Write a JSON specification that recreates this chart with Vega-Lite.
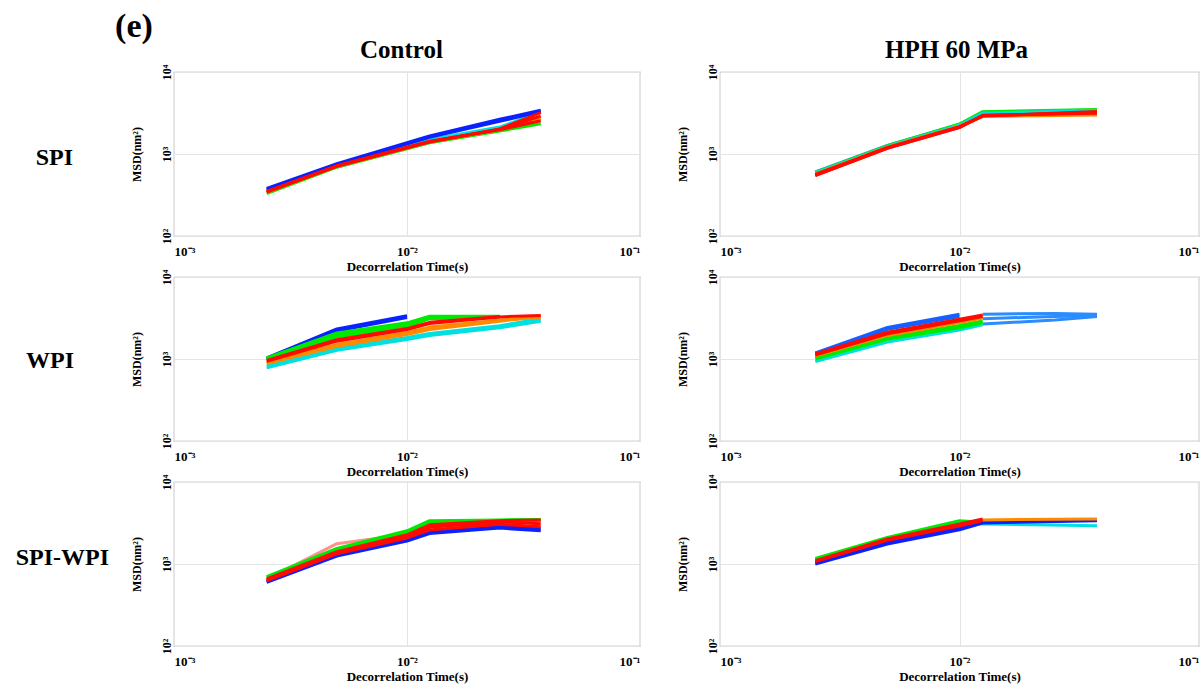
{
  "$schema": "https://vega.github.io/schema/vega-lite/v6.json",
  "padding": {"left": 15, "top": 9, "right": 0, "bottom": 0},
  "background": "white",
  "spacing": 34,
  "title": {"text": "(e)", "font": "Liberation Serif", "fontSize": 34, "fontWeight": "bold", "anchor": "start", "frame": "bounds", "dx": 100, "offset": -6, "color": "black"},
  "config": {
    "view": {"stroke": "#a8a8a8", "strokeWidth": 1.2},
    "font": "Liberation Serif",
    "title": {"font": "Liberation Serif", "fontWeight": "bold", "color": "black"},
    "axis": {"labelFont": "Liberation Serif", "labelFontWeight": "bold", "labelColor": "black", "titleFont": "Liberation Serif", "titleFontWeight": "bold", "titleColor": "black", "ticks": false, "domain": false, "gridColor": "#e4e4e4", "gridWidth": 1},
    "axisX": {"labelExpr": "datum.value < 0.005 ? '10⁻³' : datum.value < 0.05 ? '10⁻²' : '10⁻¹'", "labelFontSize": 13, "labelPadding": 9, "titleFontSize": 13, "titlePadding": 2},
    "axisY": {"labelExpr": "datum.value < 500 ? '10²' : datum.value < 5000 ? '10³' : '10⁴'", "labelFontSize": 12, "labelAngle": 270, "labelAlign": "center", "labelBaseline": "bottom", "labelPadding": 1, "labelFlush": false, "titleFontSize": 12, "titlePadding": 17},
    "line": {"strokeWidth": 3, "strokeJoin": "round"}
  },
  "data": {"values": [
    {"col":"Control","row":"SPI","s":"A3","c":"cyan","t":0.0025,"m":360},{"col":"Control","row":"SPI","s":"A3","c":"cyan","t":0.005,"m":730},{"col":"Control","row":"SPI","s":"A3","c":"cyan","t":0.0125,"m":1500},{"col":"Control","row":"SPI","s":"A3","c":"cyan","t":0.025,"m":2130},{"col":"Control","row":"SPI","s":"A3","c":"cyan","t":0.0375,"m":3250},
    {"col":"Control","row":"SPI","s":"A1","c":"blue","t":0.0025,"m":381},{"col":"Control","row":"SPI","s":"A1","c":"blue","t":0.005,"m":762},{"col":"Control","row":"SPI","s":"A1","c":"blue","t":0.0125,"m":1660},{"col":"Control","row":"SPI","s":"A1","c":"blue","t":0.025,"m":2650},{"col":"Control","row":"SPI","s":"A1","c":"blue","t":0.0375,"m":3410},
    {"col":"Control","row":"SPI","s":"A2","c":"blue","t":0.0025,"m":370},{"col":"Control","row":"SPI","s":"A2","c":"blue","t":0.005,"m":745},{"col":"Control","row":"SPI","s":"A2","c":"blue","t":0.0125,"m":1600},{"col":"Control","row":"SPI","s":"A2","c":"blue","t":0.025,"m":2500},{"col":"Control","row":"SPI","s":"A2","c":"blue","t":0.0375,"m":3300},
    {"col":"Control","row":"SPI","s":"A4","c":"green","t":0.0025,"m":328},{"col":"Control","row":"SPI","s":"A4","c":"green","t":0.005,"m":690},{"col":"Control","row":"SPI","s":"A4","c":"green","t":0.0125,"m":1370},{"col":"Control","row":"SPI","s":"A4","c":"green","t":0.025,"m":1910},{"col":"Control","row":"SPI","s":"A4","c":"green","t":0.0375,"m":2340},
    {"col":"Control","row":"SPI","s":"A5","c":"orange","t":0.0025,"m":340},{"col":"Control","row":"SPI","s":"A5","c":"orange","t":0.005,"m":705},{"col":"Control","row":"SPI","s":"A5","c":"orange","t":0.0125,"m":1400},{"col":"Control","row":"SPI","s":"A5","c":"orange","t":0.025,"m":1980},{"col":"Control","row":"SPI","s":"A5","c":"orange","t":0.0375,"m":2700},
    {"col":"Control","row":"SPI","s":"A6","c":"red","t":0.0025,"m":347},{"col":"Control","row":"SPI","s":"A6","c":"red","t":0.005,"m":714},{"col":"Control","row":"SPI","s":"A6","c":"red","t":0.0125,"m":1414},{"col":"Control","row":"SPI","s":"A6","c":"red","t":0.025,"m":2000},{"col":"Control","row":"SPI","s":"A6","c":"red","t":0.0375,"m":2900},
    {"col":"Control","row":"SPI","s":"A7","c":"red","t":0.0025,"m":342},{"col":"Control","row":"SPI","s":"A7","c":"red","t":0.005,"m":708},{"col":"Control","row":"SPI","s":"A7","c":"red","t":0.0125,"m":1400},{"col":"Control","row":"SPI","s":"A7","c":"red","t":0.025,"m":2020},{"col":"Control","row":"SPI","s":"A7","c":"red","t":0.0375,"m":3200},
    {"col":"Control","row":"SPI","s":"A8","c":"red","t":0.0025,"m":350},{"col":"Control","row":"SPI","s":"A8","c":"red","t":0.005,"m":718},{"col":"Control","row":"SPI","s":"A8","c":"red","t":0.0125,"m":1430},{"col":"Control","row":"SPI","s":"A8","c":"red","t":0.025,"m":1980},{"col":"Control","row":"SPI","s":"A8","c":"red","t":0.0375,"m":2550},

    {"col":"HPH 60 MPa","row":"SPI","s":"B1","c":"sky","t":0.0025,"m":605},{"col":"HPH 60 MPa","row":"SPI","s":"B1","c":"sky","t":0.005,"m":1270},{"col":"HPH 60 MPa","row":"SPI","s":"B1","c":"sky","t":0.01,"m":2300},{"col":"HPH 60 MPa","row":"SPI","s":"B1","c":"sky","t":0.0125,"m":3220},{"col":"HPH 60 MPa","row":"SPI","s":"B1","c":"sky","t":0.0375,"m":3440},
    {"col":"HPH 60 MPa","row":"SPI","s":"B2","c":"green","t":0.0025,"m":595},{"col":"HPH 60 MPa","row":"SPI","s":"B2","c":"green","t":0.005,"m":1260},{"col":"HPH 60 MPa","row":"SPI","s":"B2","c":"green","t":0.01,"m":2320},{"col":"HPH 60 MPa","row":"SPI","s":"B2","c":"green","t":0.0125,"m":3280},{"col":"HPH 60 MPa","row":"SPI","s":"B2","c":"green","t":0.0375,"m":3500},
    {"col":"HPH 60 MPa","row":"SPI","s":"B3","c":"cyan","t":0.0025,"m":590},{"col":"HPH 60 MPa","row":"SPI","s":"B3","c":"cyan","t":0.005,"m":1240},{"col":"HPH 60 MPa","row":"SPI","s":"B3","c":"cyan","t":0.01,"m":2260},{"col":"HPH 60 MPa","row":"SPI","s":"B3","c":"cyan","t":0.0125,"m":3150},{"col":"HPH 60 MPa","row":"SPI","s":"B3","c":"cyan","t":0.0375,"m":3400},
    {"col":"HPH 60 MPa","row":"SPI","s":"B4","c":"orange","t":0.0025,"m":570},{"col":"HPH 60 MPa","row":"SPI","s":"B4","c":"orange","t":0.005,"m":1210},{"col":"HPH 60 MPa","row":"SPI","s":"B4","c":"orange","t":0.01,"m":2180},{"col":"HPH 60 MPa","row":"SPI","s":"B4","c":"orange","t":0.0125,"m":2860},{"col":"HPH 60 MPa","row":"SPI","s":"B4","c":"orange","t":0.0375,"m":2990},
    {"col":"HPH 60 MPa","row":"SPI","s":"B5","c":"red","t":0.0025,"m":562},{"col":"HPH 60 MPa","row":"SPI","s":"B5","c":"red","t":0.005,"m":1200},{"col":"HPH 60 MPa","row":"SPI","s":"B5","c":"red","t":0.01,"m":2160},{"col":"HPH 60 MPa","row":"SPI","s":"B5","c":"red","t":0.0125,"m":2940},{"col":"HPH 60 MPa","row":"SPI","s":"B5","c":"red","t":0.0375,"m":3220},
    {"col":"HPH 60 MPa","row":"SPI","s":"B6","c":"red","t":0.0025,"m":550},{"col":"HPH 60 MPa","row":"SPI","s":"B6","c":"red","t":0.005,"m":1180},{"col":"HPH 60 MPa","row":"SPI","s":"B6","c":"red","t":0.01,"m":2120},{"col":"HPH 60 MPa","row":"SPI","s":"B6","c":"red","t":0.0125,"m":2900},{"col":"HPH 60 MPa","row":"SPI","s":"B6","c":"red","t":0.0375,"m":3300},
    {"col":"HPH 60 MPa","row":"SPI","s":"B7","c":"red","t":0.0025,"m":545},{"col":"HPH 60 MPa","row":"SPI","s":"B7","c":"red","t":0.005,"m":1170},{"col":"HPH 60 MPa","row":"SPI","s":"B7","c":"red","t":0.01,"m":2100},{"col":"HPH 60 MPa","row":"SPI","s":"B7","c":"red","t":0.0125,"m":2960},{"col":"HPH 60 MPa","row":"SPI","s":"B7","c":"red","t":0.0375,"m":3150},

    {"col":"Control","row":"WPI","s":"C1","c":"blue","t":0.0025,"m":1030},{"col":"Control","row":"WPI","s":"C1","c":"blue","t":0.005,"m":2330},{"col":"Control","row":"WPI","s":"C1","c":"blue","t":0.01,"m":3380},
    {"col":"Control","row":"WPI","s":"C2","c":"blue","t":0.0025,"m":1010},{"col":"Control","row":"WPI","s":"C2","c":"blue","t":0.005,"m":2200},{"col":"Control","row":"WPI","s":"C2","c":"blue","t":0.01,"m":3200},
    {"col":"Control","row":"WPI","s":"C10","c":"cyan","t":0.0025,"m":780},{"col":"Control","row":"WPI","s":"C10","c":"cyan","t":0.005,"m":1280},{"col":"Control","row":"WPI","s":"C10","c":"cyan","t":0.01,"m":1730},{"col":"Control","row":"WPI","s":"C10","c":"cyan","t":0.0125,"m":1930},{"col":"Control","row":"WPI","s":"C10","c":"cyan","t":0.025,"m":2400},{"col":"Control","row":"WPI","s":"C10","c":"cyan","t":0.0375,"m":2880},
    {"col":"Control","row":"WPI","s":"C11","c":"cyan","t":0.0025,"m":820},{"col":"Control","row":"WPI","s":"C11","c":"cyan","t":0.005,"m":1350},{"col":"Control","row":"WPI","s":"C11","c":"cyan","t":0.01,"m":1830},{"col":"Control","row":"WPI","s":"C11","c":"cyan","t":0.0125,"m":2050},{"col":"Control","row":"WPI","s":"C11","c":"cyan","t":0.025,"m":2550},{"col":"Control","row":"WPI","s":"C11","c":"cyan","t":0.0375,"m":3100},
    {"col":"Control","row":"WPI","s":"C3","c":"green","t":0.0025,"m":1030},{"col":"Control","row":"WPI","s":"C3","c":"green","t":0.005,"m":2080},{"col":"Control","row":"WPI","s":"C3","c":"green","t":0.01,"m":2760},{"col":"Control","row":"WPI","s":"C3","c":"green","t":0.0125,"m":3320},{"col":"Control","row":"WPI","s":"C3","c":"green","t":0.025,"m":3320},
    {"col":"Control","row":"WPI","s":"C4","c":"green","t":0.0025,"m":1000},{"col":"Control","row":"WPI","s":"C4","c":"green","t":0.005,"m":1950},{"col":"Control","row":"WPI","s":"C4","c":"green","t":0.01,"m":2600},{"col":"Control","row":"WPI","s":"C4","c":"green","t":0.0125,"m":3250},{"col":"Control","row":"WPI","s":"C4","c":"green","t":0.025,"m":3300},
    {"col":"Control","row":"WPI","s":"C5","c":"green","t":0.0025,"m":980},{"col":"Control","row":"WPI","s":"C5","c":"green","t":0.005,"m":1850},{"col":"Control","row":"WPI","s":"C5","c":"green","t":0.01,"m":2450},{"col":"Control","row":"WPI","s":"C5","c":"green","t":0.0125,"m":3100},{"col":"Control","row":"WPI","s":"C5","c":"green","t":0.025,"m":3250},
    {"col":"Control","row":"WPI","s":"C8","c":"orange","t":0.0025,"m":880},{"col":"Control","row":"WPI","s":"C8","c":"orange","t":0.005,"m":1430},{"col":"Control","row":"WPI","s":"C8","c":"orange","t":0.01,"m":1990},{"col":"Control","row":"WPI","s":"C8","c":"orange","t":0.0125,"m":2290},{"col":"Control","row":"WPI","s":"C8","c":"orange","t":0.025,"m":2880},{"col":"Control","row":"WPI","s":"C8","c":"orange","t":0.0375,"m":3320},
    {"col":"Control","row":"WPI","s":"C9","c":"orange","t":0.0025,"m":900},{"col":"Control","row":"WPI","s":"C9","c":"orange","t":0.005,"m":1500},{"col":"Control","row":"WPI","s":"C9","c":"orange","t":0.01,"m":2100},{"col":"Control","row":"WPI","s":"C9","c":"orange","t":0.0125,"m":2450},{"col":"Control","row":"WPI","s":"C9","c":"orange","t":0.025,"m":3000},{"col":"Control","row":"WPI","s":"C9","c":"orange","t":0.0375,"m":3200},
    {"col":"Control","row":"WPI","s":"C6","c":"red","t":0.0025,"m":940},{"col":"Control","row":"WPI","s":"C6","c":"red","t":0.005,"m":1650},{"col":"Control","row":"WPI","s":"C6","c":"red","t":0.01,"m":2290},{"col":"Control","row":"WPI","s":"C6","c":"red","t":0.0125,"m":2700},{"col":"Control","row":"WPI","s":"C6","c":"red","t":0.025,"m":3260},{"col":"Control","row":"WPI","s":"C6","c":"red","t":0.0375,"m":3400},
    {"col":"Control","row":"WPI","s":"C7","c":"red","t":0.0025,"m":960},{"col":"Control","row":"WPI","s":"C7","c":"red","t":0.005,"m":1720},{"col":"Control","row":"WPI","s":"C7","c":"red","t":0.01,"m":2350},{"col":"Control","row":"WPI","s":"C7","c":"red","t":0.0125,"m":2800},{"col":"Control","row":"WPI","s":"C7","c":"red","t":0.025,"m":3300},

    {"col":"HPH 60 MPa","row":"WPI","s":"D1","c":"blue2","t":0.0025,"m":1190},{"col":"HPH 60 MPa","row":"WPI","s":"D1","c":"blue2","t":0.005,"m":2430},{"col":"HPH 60 MPa","row":"WPI","s":"D1","c":"blue2","t":0.01,"m":3520},
    {"col":"HPH 60 MPa","row":"WPI","s":"D2","c":"blue2","t":0.0025,"m":1170},{"col":"HPH 60 MPa","row":"WPI","s":"D2","c":"blue2","t":0.005,"m":2300},{"col":"HPH 60 MPa","row":"WPI","s":"D2","c":"blue2","t":0.01,"m":3300},
    {"col":"HPH 60 MPa","row":"WPI","s":"D9","c":"sky","t":0.0125,"m":3520},{"col":"HPH 60 MPa","row":"WPI","s":"D9","c":"sky","t":0.025,"m":3600},{"col":"HPH 60 MPa","row":"WPI","s":"D9","c":"sky","t":0.0375,"m":3520},
    {"col":"HPH 60 MPa","row":"WPI","s":"D10","c":"sky","t":0.0125,"m":2670},{"col":"HPH 60 MPa","row":"WPI","s":"D10","c":"sky","t":0.025,"m":2990},{"col":"HPH 60 MPa","row":"WPI","s":"D10","c":"sky","t":0.0375,"m":3300},
    {"col":"HPH 60 MPa","row":"WPI","s":"D11","c":"sky","t":0.0125,"m":3100},{"col":"HPH 60 MPa","row":"WPI","s":"D11","c":"sky","t":0.025,"m":3300},{"col":"HPH 60 MPa","row":"WPI","s":"D11","c":"sky","t":0.0375,"m":3400},
    {"col":"HPH 60 MPa","row":"WPI","s":"D8","c":"cyan","t":0.0025,"m":930},{"col":"HPH 60 MPa","row":"WPI","s":"D8","c":"cyan","t":0.005,"m":1610},{"col":"HPH 60 MPa","row":"WPI","s":"D8","c":"cyan","t":0.01,"m":2260},{"col":"HPH 60 MPa","row":"WPI","s":"D8","c":"cyan","t":0.0125,"m":2620},
    {"col":"HPH 60 MPa","row":"WPI","s":"D6","c":"green","t":0.0025,"m":1000},{"col":"HPH 60 MPa","row":"WPI","s":"D6","c":"green","t":0.005,"m":1740},{"col":"HPH 60 MPa","row":"WPI","s":"D6","c":"green","t":0.01,"m":2400},{"col":"HPH 60 MPa","row":"WPI","s":"D6","c":"green","t":0.0125,"m":2760},
    {"col":"HPH 60 MPa","row":"WPI","s":"D7","c":"green","t":0.0025,"m":1040},{"col":"HPH 60 MPa","row":"WPI","s":"D7","c":"green","t":0.005,"m":1830},{"col":"HPH 60 MPa","row":"WPI","s":"D7","c":"green","t":0.01,"m":2560},{"col":"HPH 60 MPa","row":"WPI","s":"D7","c":"green","t":0.0125,"m":2900},
    {"col":"HPH 60 MPa","row":"WPI","s":"D5","c":"orange","t":0.0025,"m":1090},{"col":"HPH 60 MPa","row":"WPI","s":"D5","c":"orange","t":0.005,"m":1940},{"col":"HPH 60 MPa","row":"WPI","s":"D5","c":"orange","t":0.01,"m":2790},{"col":"HPH 60 MPa","row":"WPI","s":"D5","c":"orange","t":0.0125,"m":3150},
    {"col":"HPH 60 MPa","row":"WPI","s":"D3","c":"red","t":0.0025,"m":1150},{"col":"HPH 60 MPa","row":"WPI","s":"D3","c":"red","t":0.005,"m":2120},{"col":"HPH 60 MPa","row":"WPI","s":"D3","c":"red","t":0.01,"m":3060},{"col":"HPH 60 MPa","row":"WPI","s":"D3","c":"red","t":0.0125,"m":3450},
    {"col":"HPH 60 MPa","row":"WPI","s":"D4","c":"red","t":0.0025,"m":1120},{"col":"HPH 60 MPa","row":"WPI","s":"D4","c":"red","t":0.005,"m":2030},{"col":"HPH 60 MPa","row":"WPI","s":"D4","c":"red","t":0.01,"m":2930},{"col":"HPH 60 MPa","row":"WPI","s":"D4","c":"red","t":0.0125,"m":3300},

    {"col":"Control","row":"SPI-WPI","s":"E8","c":"pink","t":0.0025,"m":650},{"col":"Control","row":"SPI-WPI","s":"E8","c":"pink","t":0.005,"m":1770},{"col":"Control","row":"SPI-WPI","s":"E8","c":"pink","t":0.01,"m":2300},{"col":"Control","row":"SPI-WPI","s":"E8","c":"pink","t":0.0125,"m":2900},{"col":"Control","row":"SPI-WPI","s":"E8","c":"pink","t":0.025,"m":3300},{"col":"Control","row":"SPI-WPI","s":"E8","c":"pink","t":0.0375,"m":3300},
    {"col":"Control","row":"SPI-WPI","s":"E1","c":"green","t":0.0025,"m":703},{"col":"Control","row":"SPI-WPI","s":"E1","c":"green","t":0.005,"m":1550},{"col":"Control","row":"SPI-WPI","s":"E1","c":"green","t":0.01,"m":2540},{"col":"Control","row":"SPI-WPI","s":"E1","c":"green","t":0.0125,"m":3380},{"col":"Control","row":"SPI-WPI","s":"E1","c":"green","t":0.025,"m":3450},{"col":"Control","row":"SPI-WPI","s":"E1","c":"green","t":0.0375,"m":3490},
    {"col":"Control","row":"SPI-WPI","s":"E2","c":"green","t":0.0025,"m":690},{"col":"Control","row":"SPI-WPI","s":"E2","c":"green","t":0.005,"m":1500},{"col":"Control","row":"SPI-WPI","s":"E2","c":"green","t":0.01,"m":2450},{"col":"Control","row":"SPI-WPI","s":"E2","c":"green","t":0.0125,"m":3200},{"col":"Control","row":"SPI-WPI","s":"E2","c":"green","t":0.025,"m":3400},{"col":"Control","row":"SPI-WPI","s":"E2","c":"green","t":0.0375,"m":3450},
    {"col":"Control","row":"SPI-WPI","s":"E3","c":"blue","t":0.0025,"m":598},{"col":"Control","row":"SPI-WPI","s":"E3","c":"blue","t":0.005,"m":1250},{"col":"Control","row":"SPI-WPI","s":"E3","c":"blue","t":0.01,"m":1910},{"col":"Control","row":"SPI-WPI","s":"E3","c":"blue","t":0.0125,"m":2350},{"col":"Control","row":"SPI-WPI","s":"E3","c":"blue","t":0.025,"m":2740},{"col":"Control","row":"SPI-WPI","s":"E3","c":"blue","t":0.0375,"m":2540},
    {"col":"Control","row":"SPI-WPI","s":"E4","c":"blue","t":0.0025,"m":610},{"col":"Control","row":"SPI-WPI","s":"E4","c":"blue","t":0.005,"m":1280},{"col":"Control","row":"SPI-WPI","s":"E4","c":"blue","t":0.01,"m":1980},{"col":"Control","row":"SPI-WPI","s":"E4","c":"blue","t":0.0125,"m":2450},{"col":"Control","row":"SPI-WPI","s":"E4","c":"blue","t":0.025,"m":2850},{"col":"Control","row":"SPI-WPI","s":"E4","c":"blue","t":0.0375,"m":2700},
    {"col":"Control","row":"SPI-WPI","s":"E5","c":"red","t":0.0025,"m":658},{"col":"Control","row":"SPI-WPI","s":"E5","c":"red","t":0.005,"m":1410},{"col":"Control","row":"SPI-WPI","s":"E5","c":"red","t":0.01,"m":2270},{"col":"Control","row":"SPI-WPI","s":"E5","c":"red","t":0.0125,"m":3010},{"col":"Control","row":"SPI-WPI","s":"E5","c":"red","t":0.025,"m":3380},{"col":"Control","row":"SPI-WPI","s":"E5","c":"red","t":0.0375,"m":3450},
    {"col":"Control","row":"SPI-WPI","s":"E6","c":"red","t":0.0025,"m":640},{"col":"Control","row":"SPI-WPI","s":"E6","c":"red","t":0.005,"m":1370},{"col":"Control","row":"SPI-WPI","s":"E6","c":"red","t":0.01,"m":2180},{"col":"Control","row":"SPI-WPI","s":"E6","c":"red","t":0.0125,"m":2800},{"col":"Control","row":"SPI-WPI","s":"E6","c":"red","t":0.025,"m":3250},{"col":"Control","row":"SPI-WPI","s":"E6","c":"red","t":0.0375,"m":3100},
    {"col":"Control","row":"SPI-WPI","s":"E7","c":"red","t":0.0025,"m":625},{"col":"Control","row":"SPI-WPI","s":"E7","c":"red","t":0.005,"m":1330},{"col":"Control","row":"SPI-WPI","s":"E7","c":"red","t":0.01,"m":2080},{"col":"Control","row":"SPI-WPI","s":"E7","c":"red","t":0.0125,"m":2600},{"col":"Control","row":"SPI-WPI","s":"E7","c":"red","t":0.025,"m":3050},{"col":"Control","row":"SPI-WPI","s":"E7","c":"red","t":0.0375,"m":2850},

    {"col":"HPH 60 MPa","row":"SPI-WPI","s":"F2","c":"cyan","t":0.0025,"m":1150},{"col":"HPH 60 MPa","row":"SPI-WPI","s":"F2","c":"cyan","t":0.005,"m":2080},{"col":"HPH 60 MPa","row":"SPI-WPI","s":"F2","c":"cyan","t":0.01,"m":3300},{"col":"HPH 60 MPa","row":"SPI-WPI","s":"F2","c":"cyan","t":0.0125,"m":3080},{"col":"HPH 60 MPa","row":"SPI-WPI","s":"F2","c":"cyan","t":0.0375,"m":2930},
    {"col":"HPH 60 MPa","row":"SPI-WPI","s":"F1","c":"green","t":0.0025,"m":1170},{"col":"HPH 60 MPa","row":"SPI-WPI","s":"F1","c":"green","t":0.005,"m":2110},{"col":"HPH 60 MPa","row":"SPI-WPI","s":"F1","c":"green","t":0.01,"m":3380},{"col":"HPH 60 MPa","row":"SPI-WPI","s":"F1","c":"green","t":0.0125,"m":3220},{"col":"HPH 60 MPa","row":"SPI-WPI","s":"F1","c":"green","t":0.0375,"m":3470},
    {"col":"HPH 60 MPa","row":"SPI-WPI","s":"F5","c":"blue","t":0.0025,"m":1000},{"col":"HPH 60 MPa","row":"SPI-WPI","s":"F5","c":"blue","t":0.005,"m":1750},{"col":"HPH 60 MPa","row":"SPI-WPI","s":"F5","c":"blue","t":0.01,"m":2620},{"col":"HPH 60 MPa","row":"SPI-WPI","s":"F5","c":"blue","t":0.0125,"m":3160},{"col":"HPH 60 MPa","row":"SPI-WPI","s":"F5","c":"blue","t":0.0375,"m":3370},
    {"col":"HPH 60 MPa","row":"SPI-WPI","s":"F6","c":"blue","t":0.0025,"m":1030},{"col":"HPH 60 MPa","row":"SPI-WPI","s":"F6","c":"blue","t":0.005,"m":1830},{"col":"HPH 60 MPa","row":"SPI-WPI","s":"F6","c":"blue","t":0.01,"m":2750},{"col":"HPH 60 MPa","row":"SPI-WPI","s":"F6","c":"blue","t":0.0125,"m":3250},{"col":"HPH 60 MPa","row":"SPI-WPI","s":"F6","c":"blue","t":0.0375,"m":3450},
    {"col":"HPH 60 MPa","row":"SPI-WPI","s":"F7","c":"orange","t":0.0125,"m":3450},{"col":"HPH 60 MPa","row":"SPI-WPI","s":"F7","c":"orange","t":0.0375,"m":3550},
    {"col":"HPH 60 MPa","row":"SPI-WPI","s":"F3","c":"red","t":0.0025,"m":1100},{"col":"HPH 60 MPa","row":"SPI-WPI","s":"F3","c":"red","t":0.005,"m":2020},{"col":"HPH 60 MPa","row":"SPI-WPI","s":"F3","c":"red","t":0.01,"m":3080},{"col":"HPH 60 MPa","row":"SPI-WPI","s":"F3","c":"red","t":0.0125,"m":3540},
    {"col":"HPH 60 MPa","row":"SPI-WPI","s":"F4","c":"red","t":0.0025,"m":1070},{"col":"HPH 60 MPa","row":"SPI-WPI","s":"F4","c":"red","t":0.005,"m":1950},{"col":"HPH 60 MPa","row":"SPI-WPI","s":"F4","c":"red","t":0.01,"m":2900},{"col":"HPH 60 MPa","row":"SPI-WPI","s":"F4","c":"red","t":0.0125,"m":3400}
  ]},
  "hconcat": [
    {
      "title": {"text": "Control", "fontSize": 25, "anchor": "start", "frame": "group", "dx": 186, "offset": 1},
      "bounds": "flush",
      "spacing": 41,
      "vconcat": [
        {"width": 466, "height": 164,
          "title": {"text": "SPI", "orient": "left", "angle": 0, "align": "left", "baseline": "middle", "anchor": "middle", "frame": "group", "fontSize": 24, "offset": 57, "dy": 4},
          "transform": [{"filter": "datum.col === 'Control' && datum.row === 'SPI'"}],
          "mark": "line",
          "encoding": {
            "x": {"field": "t", "type": "quantitative", "scale": {"type": "log", "domain": [0.001, 0.1], "nice": false}, "axis": {"values": [0.001, 0.01, 0.1], "title": "Decorrelation Time(s)"}},
            "y": {"field": "m", "type": "quantitative", "scale": {"type": "log", "domain": [100, 10000], "nice": false}, "axis": {"values": [100, 1000, 10000], "title": "MSD(nm²)"}},
            "color": {"field": "c", "type": "nominal", "legend": null, "scale": {"domain": ["blue", "blue2", "sky", "cyan", "green", "orange", "red", "pink"], "range": ["#0a22ff", "#1560ff", "#2a8cff", "#00e0e0", "#00ea00", "#ff8a00", "#ff0a00", "#ff9090"]}},
            "detail": {"field": "s", "type": "nominal"}
          }
        },
        {"width": 466, "height": 164,
          "title": {"text": "WPI", "orient": "left", "angle": 0, "align": "left", "baseline": "middle", "anchor": "middle", "frame": "group", "fontSize": 24, "offset": 56, "dy": 2},
          "transform": [{"filter": "datum.col === 'Control' && datum.row === 'WPI'"}],
          "mark": "line",
          "encoding": {
            "x": {"field": "t", "type": "quantitative", "scale": {"type": "log", "domain": [0.001, 0.1], "nice": false}, "axis": {"values": [0.001, 0.01, 0.1], "title": "Decorrelation Time(s)"}},
            "y": {"field": "m", "type": "quantitative", "scale": {"type": "log", "domain": [100, 10000], "nice": false}, "axis": {"values": [100, 1000, 10000], "title": "MSD(nm²)"}},
            "color": {"field": "c", "type": "nominal", "legend": null, "scale": {"domain": ["blue", "blue2", "sky", "cyan", "green", "orange", "red", "pink"], "range": ["#0a22ff", "#1560ff", "#2a8cff", "#00e0e0", "#00ea00", "#ff8a00", "#ff0a00", "#ff9090"]}},
            "detail": {"field": "s", "type": "nominal"}
          }
        },
        {"width": 466, "height": 164,
          "title": {"text": "SPI-WPI", "orient": "left", "angle": 0, "align": "left", "baseline": "middle", "anchor": "middle", "frame": "group", "fontSize": 24, "offset": 21, "dy": -6},
          "transform": [{"filter": "datum.col === 'Control' && datum.row === 'SPI-WPI'"}],
          "mark": "line",
          "encoding": {
            "x": {"field": "t", "type": "quantitative", "scale": {"type": "log", "domain": [0.001, 0.1], "nice": false}, "axis": {"values": [0.001, 0.01, 0.1], "title": "Decorrelation Time(s)"}},
            "y": {"field": "m", "type": "quantitative", "scale": {"type": "log", "domain": [100, 10000], "nice": false}, "axis": {"values": [100, 1000, 10000], "title": "MSD(nm²)"}},
            "color": {"field": "c", "type": "nominal", "legend": null, "scale": {"domain": ["blue", "blue2", "sky", "cyan", "green", "orange", "red", "pink"], "range": ["#0a22ff", "#1560ff", "#2a8cff", "#00e0e0", "#00ea00", "#ff8a00", "#ff0a00", "#ff9090"]}},
            "detail": {"field": "s", "type": "nominal"}
          }
        }
      ]
    },
    {
      "title": {"text": "HPH 60 MPa", "fontSize": 25, "anchor": "start", "frame": "group", "dx": 165, "offset": 1},
      "bounds": "flush",
      "spacing": 41,
      "vconcat": [
        {"width": 479, "height": 164,
          "transform": [{"filter": "datum.col === 'HPH 60 MPa' && datum.row === 'SPI'"}],
          "mark": "line",
          "encoding": {
            "x": {"field": "t", "type": "quantitative", "scale": {"type": "log", "domain": [0.001, 0.1], "nice": false}, "axis": {"values": [0.001, 0.01, 0.1], "title": "Decorrelation Time(s)"}},
            "y": {"field": "m", "type": "quantitative", "scale": {"type": "log", "domain": [100, 10000], "nice": false}, "axis": {"values": [100, 1000, 10000], "title": "MSD(nm²)"}},
            "color": {"field": "c", "type": "nominal", "legend": null, "scale": {"domain": ["blue", "blue2", "sky", "cyan", "green", "orange", "red", "pink"], "range": ["#0a22ff", "#1560ff", "#2a8cff", "#00e0e0", "#00ea00", "#ff8a00", "#ff0a00", "#ff9090"]}},
            "detail": {"field": "s", "type": "nominal"}
          }
        },
        {"width": 479, "height": 164,
          "transform": [{"filter": "datum.col === 'HPH 60 MPa' && datum.row === 'WPI'"}],
          "mark": "line",
          "encoding": {
            "x": {"field": "t", "type": "quantitative", "scale": {"type": "log", "domain": [0.001, 0.1], "nice": false}, "axis": {"values": [0.001, 0.01, 0.1], "title": "Decorrelation Time(s)"}},
            "y": {"field": "m", "type": "quantitative", "scale": {"type": "log", "domain": [100, 10000], "nice": false}, "axis": {"values": [100, 1000, 10000], "title": "MSD(nm²)"}},
            "color": {"field": "c", "type": "nominal", "legend": null, "scale": {"domain": ["blue", "blue2", "sky", "cyan", "green", "orange", "red", "pink"], "range": ["#0a22ff", "#1560ff", "#2a8cff", "#00e0e0", "#00ea00", "#ff8a00", "#ff0a00", "#ff9090"]}},
            "detail": {"field": "s", "type": "nominal"}
          }
        },
        {"width": 479, "height": 164,
          "transform": [{"filter": "datum.col === 'HPH 60 MPa' && datum.row === 'SPI-WPI'"}],
          "mark": "line",
          "encoding": {
            "x": {"field": "t", "type": "quantitative", "scale": {"type": "log", "domain": [0.001, 0.1], "nice": false}, "axis": {"values": [0.001, 0.01, 0.1], "title": "Decorrelation Time(s)"}},
            "y": {"field": "m", "type": "quantitative", "scale": {"type": "log", "domain": [100, 10000], "nice": false}, "axis": {"values": [100, 1000, 10000], "title": "MSD(nm²)"}},
            "color": {"field": "c", "type": "nominal", "legend": null, "scale": {"domain": ["blue", "blue2", "sky", "cyan", "green", "orange", "red", "pink"], "range": ["#0a22ff", "#1560ff", "#2a8cff", "#00e0e0", "#00ea00", "#ff8a00", "#ff0a00", "#ff9090"]}},
            "detail": {"field": "s", "type": "nominal"}
          }
        }
      ]
    }
  ]
}
